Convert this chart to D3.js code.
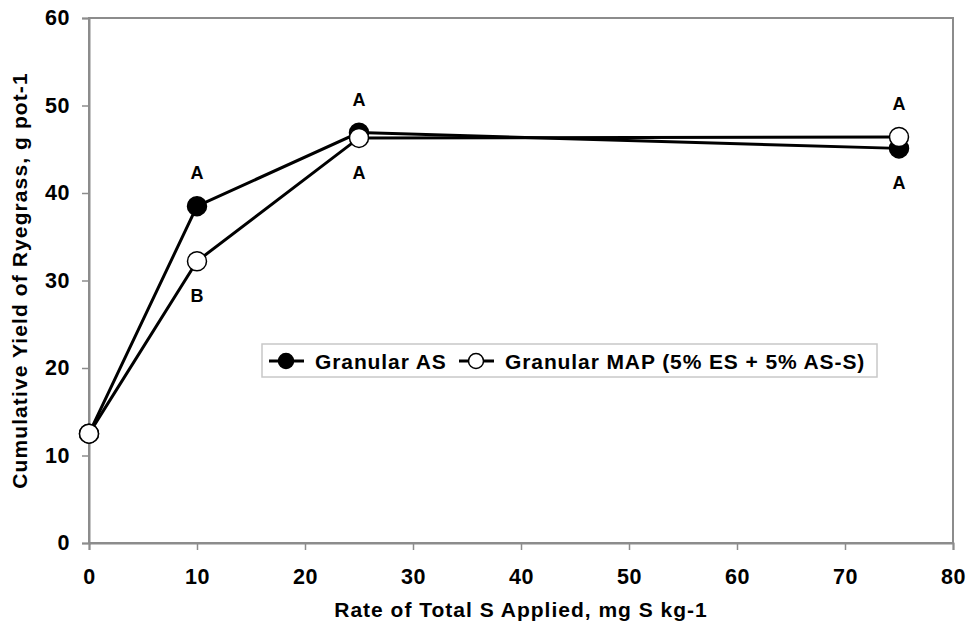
<!DOCTYPE html>
<html>
<head>
<meta charset="utf-8">
<script src="https://cdn.jsdelivr.net/npm/d3@7"></script>
<style>
  html, body { margin: 0; padding: 0; background: #fff; }
  svg { display: block; font-family: Arial, "Liberation Sans", sans-serif; font-weight: bold; }
</style>
</head>
<body>
<svg id="chart" width="967" height="627"></svg>
<script>
// Sulfur rates (mg S kg-1)
const rates = [0, 10, 25, 75];
// Cumulative ryegrass yield, g pot-1
const yieldAS = [12.5, 38.5, 46.9, 45.1];
const yieldMAP = [12.5, 32.2, 46.3, 46.4];
// Mean-separation letters (above / below the points)
const lettersAS = ["", "A", "A", "A"];
const lettersMAP = ["", "B", "A", "A"];
const xTicks = [0, 10, 20, 30, 40, 50, 60, 70, 80];
const yTicks = [0, 10, 20, 30, 40, 50, 60];
const seriesNames = ["Granular AS", "Granular MAP (5% ES + 5% AS-S)"];

const svg = d3.select("#chart");
const plotL = 89, plotR = 953, plotT = 18, plotB = 543;

const x = d3.scaleLinear().domain([0, 80]).range([plotL, plotR]);
const y = d3.scaleLinear().domain([0, 60]).range([plotB, plotT]);

const axisColor = "#8c8c8c";
const labelFont = "21.5px";
const spacing = "0.6px";

// Plot frame
svg.append("rect")
  .attr("x", plotL).attr("y", plotT)
  .attr("width", plotR - plotL).attr("height", plotB - plotT)
  .attr("fill", "none").attr("stroke", axisColor).attr("stroke-width", 2);

// X axis
const gx = svg.append("g").attr("transform", `translate(0,${plotB})`)
  .call(d3.axisBottom(x).tickValues(xTicks).tickSize(7).tickPadding(19));
gx.select(".domain").attr("stroke", axisColor).attr("stroke-width", 2);
gx.selectAll(".tick line").attr("stroke", axisColor).attr("stroke-width", 1.5);
gx.selectAll(".tick text").attr("fill", "#000")
  .style("font-size", labelFont).style("font-weight", "bold").style("letter-spacing", spacing);

// Y axis
const gy = svg.append("g").attr("transform", `translate(${plotL},0)`)
  .call(d3.axisLeft(y).tickValues(yTicks).tickSize(7).tickPadding(12));
gy.select(".domain").attr("stroke", axisColor).attr("stroke-width", 2);
gy.selectAll(".tick line").attr("stroke", axisColor).attr("stroke-width", 1.5);
gy.selectAll(".tick text").attr("fill", "#000")
  .style("font-size", labelFont).style("font-weight", "bold").style("letter-spacing", spacing);

// Axis titles
svg.append("text")
  .attr("x", (plotL + plotR) / 2).attr("y", 617)
  .attr("text-anchor", "middle").style("font-size", "21px").style("letter-spacing", "1px")
  .text("Rate of Total S Applied, mg S kg-1");
svg.append("text")
  .attr("transform", `translate(27,${(plotT + plotB) / 2}) rotate(-90)`)
  .attr("text-anchor", "middle").style("font-size", "21px").style("letter-spacing", "1.1px")
  .text("Cumulative Yield of Ryegrass, g pot-1");

const line = d3.line().x(d => x(d[0])).y(d => y(d[1]));
const ptsAS = rates.map((r, i) => [r, yieldAS[i]]);
const ptsMAP = rates.map((r, i) => [r, yieldMAP[i]]);

function drawSeries(pts, fill) {
  svg.append("path").datum(pts)
    .attr("d", line).attr("fill", "none")
    .attr("stroke", "#000").attr("stroke-width", 3);
  svg.selectAll(null).data(pts).enter().append("circle")
    .attr("cx", d => x(d[0])).attr("cy", d => y(d[1]))
    .attr("r", 9.5).attr("fill", fill)
    .attr("stroke", "#000").attr("stroke-width", 1.5);
}
drawSeries(ptsAS, "#000");
drawSeries(ptsMAP, "#fff");

// Letters: above the higher point, below the lower point
rates.forEach((r, i) => {
  if (!lettersAS[i]) return;
  const hi = Math.max(yieldAS[i], yieldMAP[i]);
  const lo = Math.min(yieldAS[i], yieldMAP[i]);
  const upper = yieldAS[i] >= yieldMAP[i] ? lettersAS[i] : lettersMAP[i];
  const lower = yieldAS[i] >= yieldMAP[i] ? lettersMAP[i] : lettersAS[i];
  svg.append("text").attr("x", x(r)).attr("y", y(hi) - 27)
    .attr("text-anchor", "middle").style("font-size", "18px").text(upper);
  svg.append("text").attr("x", x(r)).attr("y", y(lo) + 41)
    .attr("text-anchor", "middle").style("font-size", "18px").text(lower);
});

// Legend
const lg = svg.append("g");
lg.append("rect").attr("x", 262).attr("y", 344).attr("width", 615).attr("height", 33)
  .attr("fill", "#fff").attr("stroke", "#c8c8c8").attr("stroke-width", 1.5);
const legendItems = [
  { name: seriesNames[0], fill: "#000", x0: 269 },
  { name: seriesNames[1], fill: "#fff", x0: 459 }
];
legendItems.forEach(it => {
  const cy = 361;
  lg.append("line").attr("x1", it.x0).attr("x2", it.x0 + 35)
    .attr("y1", cy).attr("y2", cy).attr("stroke", "#000").attr("stroke-width", 3);
  lg.append("circle").attr("cx", it.x0 + 17).attr("cy", cy).attr("r", 7.5)
    .attr("fill", it.fill).attr("stroke", "#000").attr("stroke-width", 1.5);
  lg.append("text").attr("x", it.x0 + 46).attr("y", cy + 8)
    .style("font-size", "21px").style("letter-spacing", "0.9px").text(it.name);
});
</script>
</body>
</html>
